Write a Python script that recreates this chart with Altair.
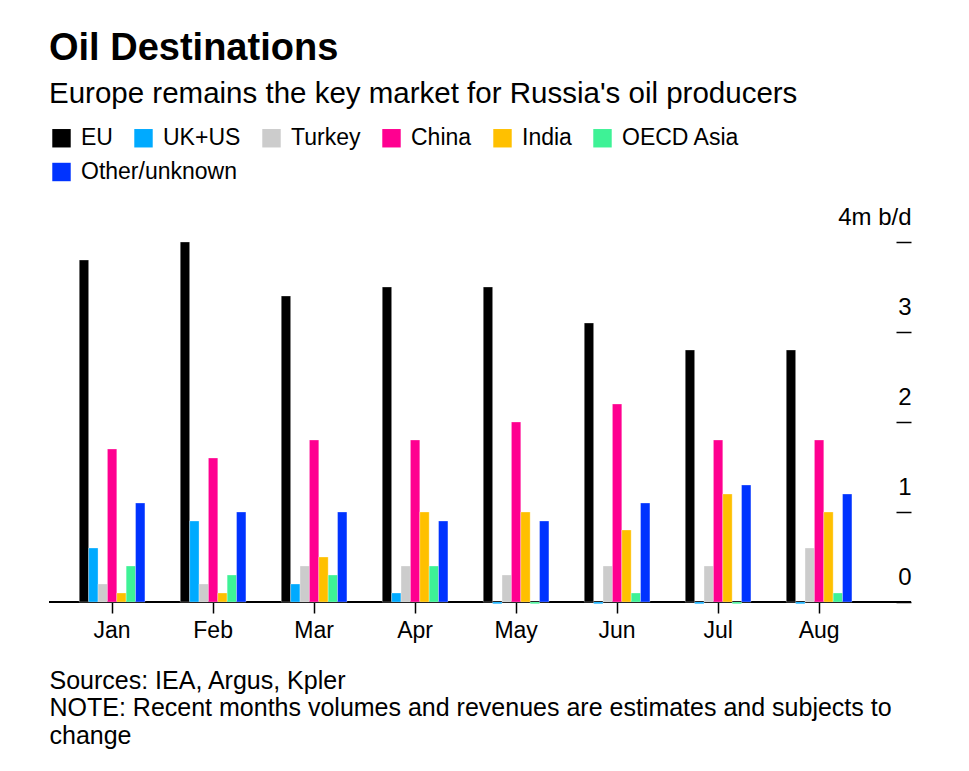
import altair as alt
import pandas as pd

months = ["Jan", "Feb", "Mar", "Apr", "May", "Jun", "Jul", "Aug"]
destinations = ["EU", "UK+US", "Turkey", "China", "India", "OECD Asia", "Other/unknown"]
colors = ["#000000", "#00aaff", "#cccccc", "#ff0090", "#ffc000", "#3ef296", "#0033ff"]

eu = [3.8, 4.0, 3.4, 3.5, 3.5, 3.1, 2.8, 2.8]
uk_us = [0.6, 0.9, 0.2, 0.1, -0.02, -0.02, -0.02, -0.02]
turkey = [0.2, 0.2, 0.4, 0.4, 0.3, 0.4, 0.4, 0.6]
china = [1.7, 1.6, 1.8, 1.8, 2.0, 2.2, 1.8, 1.8]
india = [0.1, 0.1, 0.5, 1.0, 1.0, 0.8, 1.2, 1.0]
oecd_asia = [0.4, 0.3, 0.3, 0.4, -0.02, 0.1, -0.02, 0.1]
other = [1.1, 1.0, 1.0, 0.9, 0.9, 1.1, 1.3, 1.2]

series = [eu, uk_us, turkey, china, india, oecd_asia, other]
rows = []
for dest, vals in zip(destinations, series):
    for m, v in zip(months, vals):
        rows.append({"month": m, "destination": dest, "value": v})
df = pd.DataFrame(rows)

FONT = "Liberation Sans"

x_enc = alt.X(
    "month:N",
    sort=months,
    scale=alt.Scale(range=[12.6, 820.6], paddingInner=0.35, paddingOuter=0.175),
    axis=alt.Axis(
        title=[
            "Sources: IEA, Argus, Kpler",
            "NOTE: Recent months volumes and revenues are estimates and subjects to",
            "change",
        ],
        titleAnchor="start",
        titleAlign="left",
        titleX=0,
        titleY=86,
        titleBaseline="alphabetic",
        titleFontSize=25,
        titleFontWeight="normal",
        titleLineHeight=27.5,
        titleColor="black",
        titleFont=FONT,
        labelAngle=0,
        labelFontSize=23,
        labelFont=FONT,
        labelColor="black",
        labelPadding=6,
        domain=False,
        ticks=True,
        tickSize=11,
        tickWidth=1.5,
        tickColor="black",
    ),
)
xoff_enc = alt.XOffset("destination:N", sort=destinations,
                       scale=alt.Scale(domain=destinations, paddingInner=0, paddingOuter=0))
y_enc = alt.Y(
    "value:Q",
    scale=alt.Scale(domain=[0, 4], nice=False),
    axis=alt.Axis(
        title=None,
        orient="right",
        offset=-15,
        values=[0, 1, 2, 3, 4],
        labelExpr="datum.value == 4 ? '4m b/d' : format(datum.value, 'd')",
        domain=False,
        grid=False,
        tickSize=15,
        tickWidth=1.5,
        tickColor="black",
        labelAlign="right",
        labelBaseline="alphabetic",
        labelOffset=-18,
        labelPadding=0,
        labelFontSize=24,
        labelFont=FONT,
        labelColor="black",
    ),
)


def legend(y):
    return alt.Legend(
        title=None,
        orient="none",
        legendX=1,
        legendY=y,
        direction="horizontal",
        symbolType="square",
        symbolSize=340,
        symbolStrokeWidth=0,
        symbolOpacity=1,
        labelFontSize=23,
        labelFont=FONT,
        labelColor="black",
        labelOffset=8,
        columnPadding=19,
        padding=0,
    )


main_dest = destinations[:6]
bar_style = dict(stroke="white", strokeOpacity=0.3, strokeWidth=1)

bars_main = alt.Chart(df).transform_filter(
    alt.FieldOneOfPredicate(field="destination", oneOf=main_dest)
).mark_bar(**bar_style).encode(
    x=x_enc,
    xOffset=xoff_enc,
    y=y_enc,
    color=alt.Color("destination:N", sort=main_dest,
                    scale=alt.Scale(domain=main_dest, range=colors[:6]),
                    legend=legend(-115.5)),
)

bars_other = alt.Chart(df).transform_filter(
    alt.FieldOneOfPredicate(field="destination", oneOf=[destinations[6]])
).mark_bar(**bar_style).encode(
    x=x_enc,
    xOffset=xoff_enc,
    y=y_enc,
    color=alt.Color("destination:N",
                    scale=alt.Scale(domain=[destinations[6]], range=[colors[6]]),
                    legend=legend(-81.5)),
)

baseline = alt.Chart(df).mark_rule(color="black", strokeWidth=2).encode(y=alt.datum(0))

chart = alt.layer(baseline, bars_main, bars_other).resolve_scale(
    color="independent"
).properties(
    width=862,
    height=360,
    padding={"left": 40, "top": 22, "right": 20, "bottom": 10},
    title=alt.TitleParams(
        text="Oil Destinations",
        subtitle="Europe remains the key market for Russia's oil producers",
        anchor="start",
        frame="group",
        font=FONT,
        fontSize=38,
        fontWeight="bold",
        color="black",
        subtitleFont=FONT,
        subtitleFontSize=29.5,
        subtitleColor="black",
        subtitlePadding=12,
        offset=18,
    ),
).configure_view(stroke=None)

chart.save("out.html", embed_options={"renderer": "svg", "actions": False})
